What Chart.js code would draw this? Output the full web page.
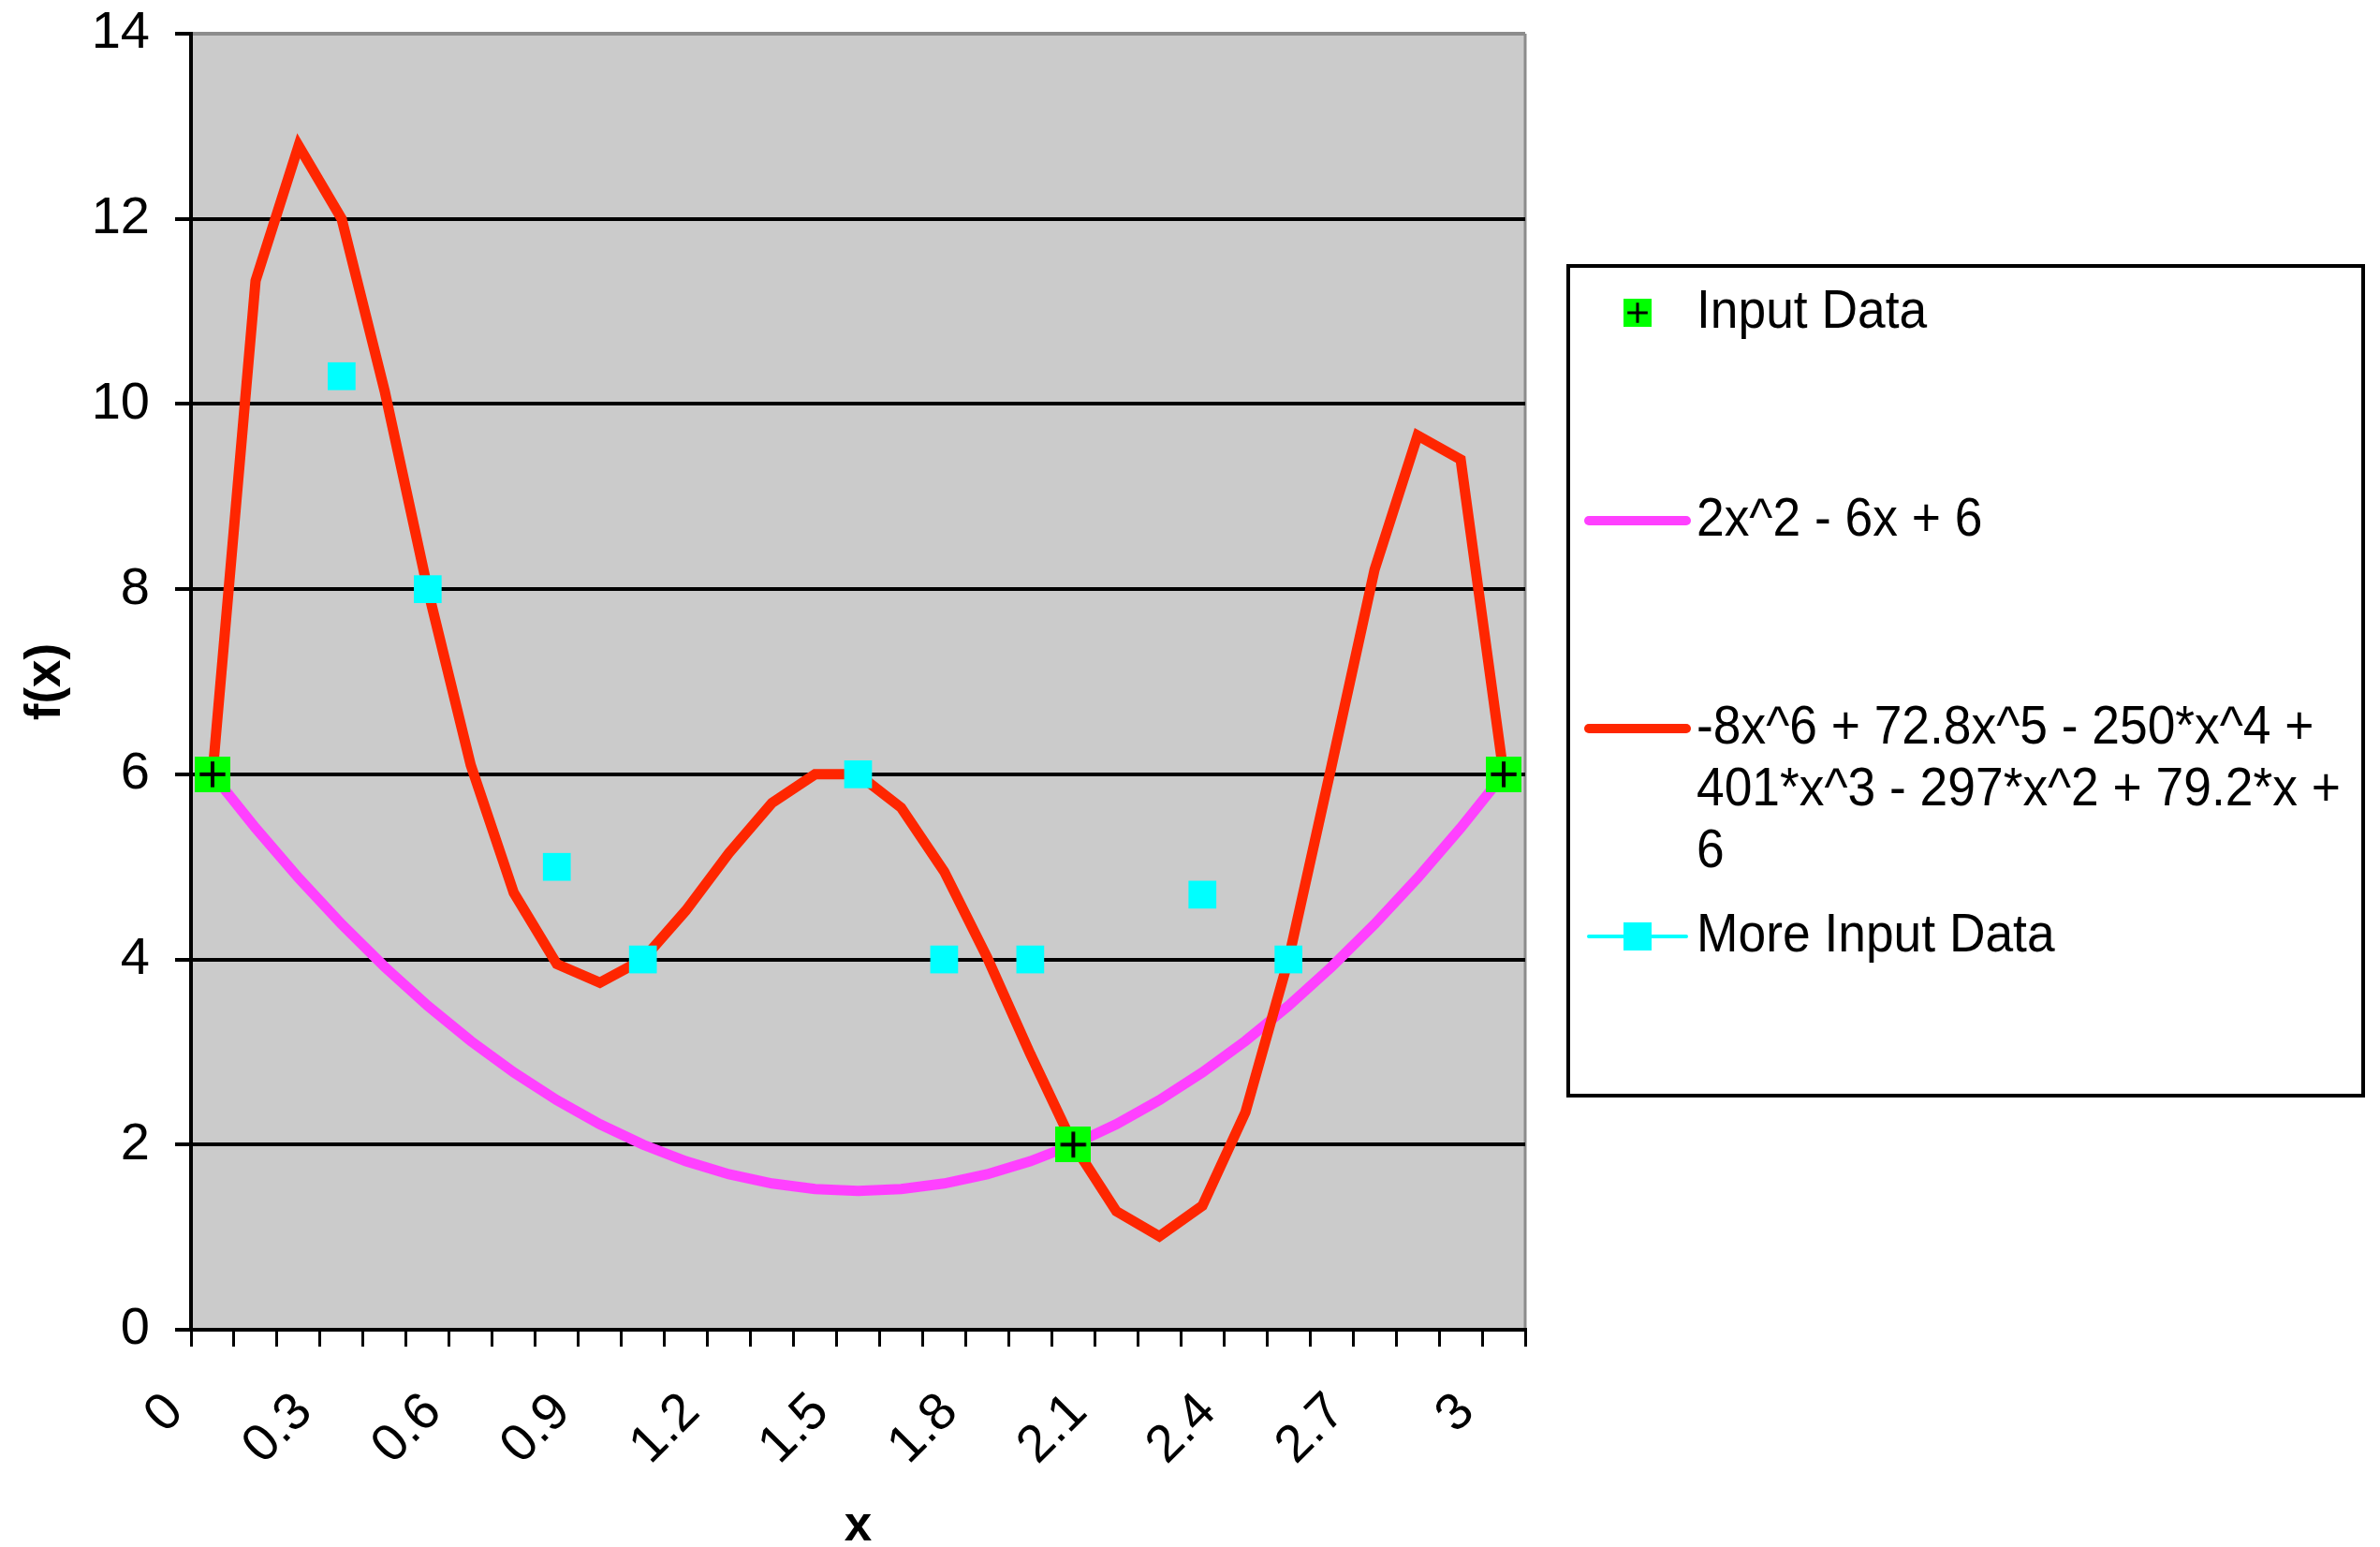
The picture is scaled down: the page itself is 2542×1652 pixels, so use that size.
<!DOCTYPE html>
<html>
<head>
<meta charset="utf-8">
<script src="https://cdn.jsdelivr.net/npm/chart.js@4.4.0/dist/chart.umd.min.js"></script>
<style>
  html, body { margin: 0; padding: 0; background: #fff; }
</style>
</head>
<body>
<canvas id="chart" width="2542" height="1652"></canvas>
<script>
// x categories, 0 .. 3 in steps of 0.1
const xLabels = ['0', '0.1', '0.2', '0.3', '0.4', '0.5', '0.6', '0.7', '0.8', '0.9',
  '1', '1.1', '1.2', '1.3', '1.4', '1.5', '1.6', '1.7', '1.8', '1.9',
  '2', '2.1', '2.2', '2.3', '2.4', '2.5', '2.6', '2.7', '2.8', '2.9', '3'];

const seriesNames = [
  'Input Data',
  '2x^2 - 6x + 6',
  '-8x^6 + 72.8x^5 - 250*x^4 + 401*x^3 - 297*x^2 + 79.2*x + 6',
  'More Input Data'
];

const inputData = [6, null, null, null, null, null, null, null, null, null,
  null, null, null, null, null, null, null, null, null, null,
  2, null, null, null, null, null, null, null, null, null, 6];

const quadratic = [6, 5.42, 4.88, 4.38, 3.92, 3.5, 3.12, 2.78, 2.48, 2.22,
  2, 1.82, 1.68, 1.58, 1.52, 1.5, 1.52, 1.58, 1.68, 1.82,
  2, 2.22, 2.48, 2.78, 3.12, 3.5, 3.92, 4.38, 4.88, 5.42, 6];

const sextic = [6, 11.33, 12.79, 12, 10.14, 8, 6.1, 4.72, 3.95, 3.75,
  4, 4.53, 5.15, 5.69, 6, 6, 5.64, 4.95, 4.02, 2.98,
  2, 1.28, 1.01, 1.34, 2.35, 4, 6.09, 8.21, 9.66, 9.4, 6];

const moreInput = [null, null, null, 10.3, null, 8, null, null, 5, null,
  4, null, null, null, null, 6, null, 4, null, 4,
  null, null, null, 4.7, null, 4, null, null, null, null, null];

const yTicks = [0, 2, 4, 6, 8, 10, 12, 14];

// legend text, wrapped the way the original box wraps it
const legendLines = [
  ['Input Data'],
  ['2x^2 - 6x + 6'],
  ['-8x^6 + 72.8x^5 - 250*x^4 +', '401*x^3 - 297*x^2 + 79.2*x +', '6'],
  ['More Input Data']
];

const GREEN = '#00ff00';
const MAGENTA = '#ff40ff';
const RED = '#ff2600';
const CYAN = '#00ffff';

// green square with a black plus, used as the point style of "Input Data"
function plusMarker(size, lw) {
  const c = document.createElement('canvas');
  c.width = size;
  c.height = size;
  const g = c.getContext('2d');
  g.fillStyle = GREEN;
  g.fillRect(0, 0, size, size);
  g.strokeStyle = '#000';
  g.lineWidth = lw;
  const m = size / 2, a = size * 0.36;
  g.beginPath();
  g.moveTo(m - a, m); g.lineTo(m + a, m);
  g.moveTo(m, m - a); g.lineTo(m, m + a);
  g.stroke();
  return c;
}

const plotMarker = plusMarker(38, 4);
const legendMarker = plusMarker(30, 3);

const plotBackground = {
  id: 'plotBackground',
  beforeDraw(chart) {
    const {ctx, chartArea: a} = chart;
    ctx.save();
    ctx.fillStyle = '#cbcbcb';
    ctx.fillRect(a.left, a.top, a.right - a.left, a.bottom - a.top);
    ctx.strokeStyle = '#8c8c8c';
    ctx.lineWidth = 3;
    ctx.beginPath();
    ctx.moveTo(a.right, a.top);
    ctx.lineTo(a.right, a.bottom);
    ctx.stroke();
    ctx.restore();
  }
};

// boxed legend on the right, drawn like the spreadsheet one
const boxLegend = {
  id: 'boxLegend',
  afterDraw(chart) {
    const ctx = chart.ctx;
    const box = {left: 1675, top: 284, right: 2524, bottom: 1170};
    ctx.save();
    ctx.strokeStyle = '#000';
    ctx.lineWidth = 4;
    ctx.strokeRect(box.left, box.top, box.right - box.left, box.bottom - box.top);

    const markX = 1749, lineL = 1697, lineR = 1801, textX = 1812;
    const squeeze = 0.92;

    legendLines.forEach((lines, i) => {
      const y = box.top + 50 + i * 222;
      const ds = chart.data.datasets[i];
      if (i === 0) {
        ctx.drawImage(legendMarker, markX - 15, y - 15);
      } else {
        ctx.strokeStyle = ds.borderColor;
        ctx.lineWidth = i === 3 ? 4 : 10;
        ctx.lineCap = 'round';
        ctx.beginPath();
        ctx.moveTo(lineL, y);
        ctx.lineTo(lineR, y);
        ctx.stroke();
        if (i === 3) {
          ctx.fillStyle = CYAN;
          ctx.fillRect(markX - 15, y - 15, 30, 30);
        }
      }
      // narrow legend font: squeeze the regular face horizontally
      ctx.save();
      ctx.translate(textX, 0);
      ctx.scale(squeeze, 1);
      ctx.font = '58px "Liberation Sans", Arial, sans-serif';
      ctx.fillStyle = '#000';
      ctx.textBaseline = 'alphabetic';
      ctx.textAlign = 'left';
      lines.forEach((t, k) => ctx.fillText(t, 0, y + 16 + k * 66));
      ctx.restore();
    });
    ctx.restore();
  }
};

Chart.defaults.font.family = '"Liberation Sans", Arial, sans-serif';
Chart.defaults.color = '#000';

new Chart(document.getElementById('chart'), {
  type: 'line',
  data: {
    labels: xLabels,
    datasets: [
      {
        label: seriesNames[0],
        data: inputData,
        showLine: false,
        pointStyle: plotMarker,
        pointRadius: 19,
        borderColor: GREEN,
        backgroundColor: GREEN,
        order: 0
      },
      {
        label: seriesNames[1],
        data: quadratic,
        borderColor: MAGENTA,
        backgroundColor: MAGENTA,
        borderWidth: 11,
        pointRadius: 0,
        borderJoinStyle: 'miter',
        order: 3
      },
      {
        label: seriesNames[2],
        data: sextic,
        borderColor: RED,
        backgroundColor: RED,
        borderWidth: 11,
        pointRadius: 0,
        borderJoinStyle: 'miter',
        order: 2
      },
      {
        label: seriesNames[3],
        data: moreInput,
        borderColor: CYAN,
        backgroundColor: CYAN,
        borderWidth: 4,
        spanGaps: false,
        pointStyle: 'rect',
        pointRadius: 21,
        pointBorderWidth: 0,
        order: 1
      }
    ]
  },
  options: {
    responsive: false,
    animation: false,
    devicePixelRatio: 1,
    layout: { padding: { left: 0, top: 36, right: 913, bottom: 0 } },
    plugins: {
      legend: { display: false },
      tooltip: { enabled: false }
    },
    scales: {
      x: {
        type: 'category',
        offset: true,
        grid: {
          offset: true,
          drawOnChartArea: false,
          tickLength: 18,
          color: '#000',
          lineWidth: 3
        },
        border: { color: '#000', width: 4 },
        ticks: {
          autoSkip: false,
          minRotation: 45,
          maxRotation: 45,
          labelOffset: -40,
          padding: 37,
          font: { size: 56 },
          callback(value, index) {
            return index % 3 === 0 ? this.getLabelForValue(value) : '';
          }
        },
        title: {
          display: true,
          text: 'x',
          font: { size: 53, weight: 'bold', lineHeight: 0.8 },
          padding: { top: 0, bottom: 0 }
        },
        afterFit(scale) { scale.height = 232; }
      },
      y: {
        min: 0,
        max: 14,
        afterBuildTicks(scale) { scale.ticks = yTicks.map(v => ({ value: v })); },
        ticks: { padding: 27, font: { size: 56 } },
        grid: {
          color: c => (c.tick && c.tick.value === 14 ? '#8c8c8c' : '#000'),
          tickColor: '#000',
          lineWidth: 4,
          tickLength: 17
        },
        border: { color: '#000', width: 4 },
        title: {
          display: true,
          text: 'f(x)',
          font: { size: 53, weight: 'bold' },
          padding: { top: 18, bottom: 0 }
        },
        afterFit(scale) {
          scale.width = 204;
          // let the layout padding alone decide where the plot starts
          scale.paddingTop = 0;
          scale.paddingBottom = 0;
        }
      }
    }
  },
  plugins: [plotBackground, boxLegend]
});
</script>
</body>
</html>
